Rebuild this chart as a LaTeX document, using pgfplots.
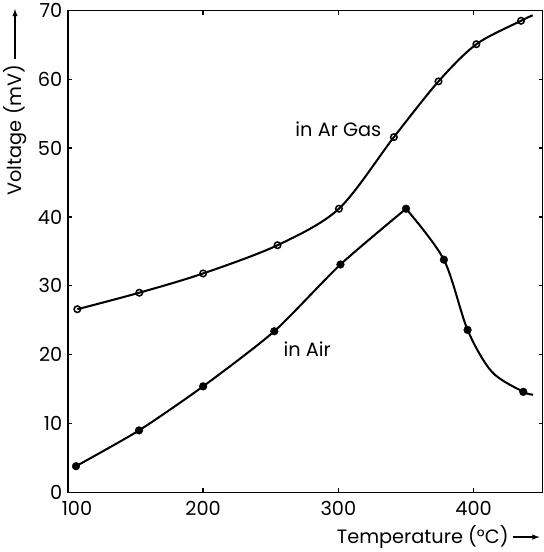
\documentclass[border=0pt]{standalone}
\usepackage{pgfplots}
\pgfplotsset{compat=1.18}
\usepackage{fontspec}
\setmainfont{Poppins}
\begin{document}
\begin{tikzpicture}
\begin{axis}[
  scale only axis,
  width=467pt, height=474pt,
  xmin=100, xmax=451, ymin=0, ymax=70,
  xtick={200,300,400}, ytick={0,10,20,30,40,50,60,70},
  extra x ticks={100},
  extra x tick style={xticklabel style={xshift=9pt}},
  tick align=inside, major tick length=4pt,
  axis line style={line width=1.6pt},
  every tick/.style={line width=1.3pt, black},
  tick label style={font=\fontsize{19}{22}\selectfont},
  /pgf/number format/assume math mode=true,
  xticklabel style={yshift=-5pt},
  yticklabel style={xshift=-2pt},
  clip=false,
]
% in Ar Gas curve
\addplot[black, line width=2pt, smooth, tension=0.5] coordinates {
 (107,26.6) (152.8,29) (200,31.8) (255,35.9) (300.4,41.2) (341,51.6) (374,59.7) (402,65.1) (435,68.5) (443.6,69.3)};
\addplot[only marks, mark=o, mark size=3.2pt, mark options={line width=1.5pt, fill=white}] coordinates {
 (107,26.6) (152.8,29) (200,31.8) (255,35.9) (300.4,41.2) (341,51.6) (374,59.7) (402,65.1) (435,68.5)};
% in Air curve
\addplot[black, line width=2pt, smooth, tension=0.4] coordinates {
 (106,3.8) (152.6,9.0) (200,15.4) (252.6,23.4) (301.5,33.1) (350,41.2)};
\addplot[black, line width=2pt, smooth, tension=0.5] coordinates {
 (350,41.2) (378,33.8) (395.5,23.6) (413.5,17.5) (436.7,14.6) (444,14.2)};
\addplot[only marks, mark=*, mark size=3.8pt, black] coordinates {
 (106,3.8) (152.6,9.0) (200,15.4) (252.6,23.4) (301.5,33.1) (350,41.2) (378,33.8) (395.5,23.6) (436.7,14.6)};
\node[font=\fontsize{19}{22}\selectfont] at (axis cs:300,52.7) {in Ar Gas};
\node[font=\fontsize{19}{22}\selectfont] at (axis cs:277,20.8) {in Air};
\node[rotate=90, font=\fontsize{19}{22}\selectfont, name=yl] at ([xshift=-52pt]rel axis cs:0,0.752) {Voltage (mV)};
\node[font=\fontsize{19}{22}\selectfont, anchor=east, name=xl] at ([xshift=-30pt, yshift=-44pt]rel axis cs:1,0) {Temperature (°C)};
\end{axis}
\draw[-latex, line width=1.4pt] (yl.east) ++(0,2pt) -- ++(0,49pt);
\draw[-latex, line width=1.4pt] (xl.east) ++(1pt,0) -- ++(26pt,0);
\end{tikzpicture}
\end{document}
